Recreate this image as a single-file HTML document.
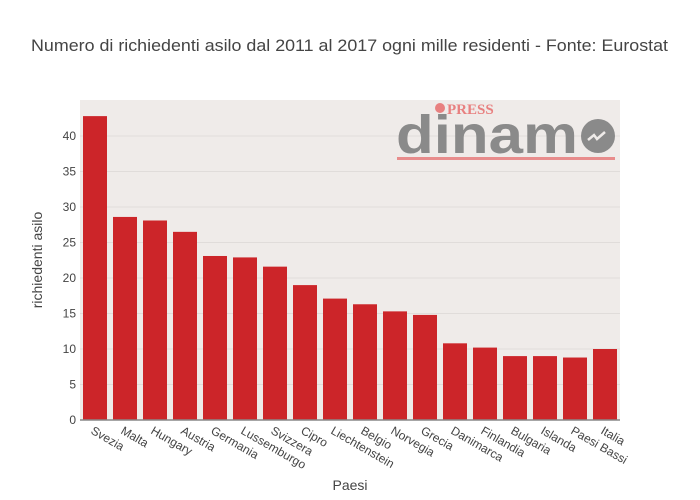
<!DOCTYPE html>
<html><head><meta charset="utf-8"><style>body{margin:0;background:#fff}svg{display:block;font-family:"Liberation Sans",sans-serif}</style></head><body>
<svg width="700" height="500" viewBox="0 0 700 500">
<rect width="700" height="500" fill="#fff"/>
<rect x="80" y="100" width="540" height="320" fill="#efebe9"/>
<g stroke="#e0dcda" stroke-width="1">
<line x1="80" x2="620" y1="384.5" y2="384.5"/><line x1="80" x2="620" y1="349" y2="349"/><line x1="80" x2="620" y1="313.5" y2="313.5"/><line x1="80" x2="620" y1="278" y2="278"/><line x1="80" x2="620" y1="242.5" y2="242.5"/><line x1="80" x2="620" y1="207" y2="207"/><line x1="80" x2="620" y1="171.5" y2="171.5"/><line x1="80" x2="620" y1="136" y2="136"/>
</g>
<text x="31" y="51" font-size="17" fill="#444" textLength="637" lengthAdjust="spacingAndGlyphs">Numero di richiedenti asilo dal 2011 al 2017 ogni mille residenti - Fonte: Eurostat</text>
<g font-size="12" fill="#444" text-anchor="end">
<text x="76" y="424">0</text><text x="76" y="388.5">5</text><text x="76" y="353">10</text><text x="76" y="317.5">15</text><text x="76" y="282">20</text><text x="76" y="246.5">25</text><text x="76" y="211">30</text><text x="76" y="175.5">35</text><text x="76" y="140">40</text>
</g>
<text transform="translate(42,260) rotate(-90)" text-anchor="middle" font-size="14" fill="#444">richiedenti asilo</text>
<text x="350" y="490" text-anchor="middle" font-size="14" fill="#444">Paesi</text>
<g fill="#cc2529" id="bars"></g>
<g id="labels" font-size="12" fill="#444"></g>
<line x1="80" x2="620" y1="420" y2="420" stroke="#888" stroke-width="1.5"/>
<g>
<circle cx="440" cy="108" r="5" fill="#e88080"/>
<text x="447" y="114" font-family="Liberation Serif,serif" font-weight="bold" font-size="15" fill="#e88080">PRESS</text>
<text x="396" y="153" font-weight="bold" font-size="54" fill="#8a8a8a" textLength="182" lengthAdjust="spacingAndGlyphs">dinam</text>
<circle cx="598" cy="136" r="17" fill="#8a8a8a"/>
<path d="M588 140 l6 -5 l3 4 l8 -7" stroke="#efebe9" stroke-width="2.5" fill="none"/>
<rect x="397" y="157" width="218" height="3" fill="#e88c8c"/>
</g>
<script>
var v=[["Svezia",42.8],["Malta",28.6],["Hungary",28.1],["Austria",26.5],["Germania",23.1],["Lussemburgo",22.9],["Svizzera",21.6],["Cipro",19.0],["Liechtenstein",17.1],["Belgio",16.3],["Norvegia",15.3],["Grecia",14.8],["Danimarca",10.8],["Finlandia",10.2],["Bulgaria",9.0],["Islanda",9.0],["Paesi Bassi",8.8],["Italia",10.0]];
var b=document.getElementById('bars'),l=document.getElementById('labels'),ns="http://www.w3.org/2000/svg";
v.forEach(function(d,i){var c=95+i*30,h=d[1]*7.1;var r=document.createElementNS(ns,'rect');r.setAttribute('x',c-12);r.setAttribute('width',24);r.setAttribute('y',420-h);r.setAttribute('height',h);b.appendChild(r);
var t=document.createElementNS(ns,'text');t.setAttribute('transform','translate('+(c-5)+',433) rotate(30)');t.textContent=d[0];l.appendChild(t);});
</script>
</svg>
</body></html>
